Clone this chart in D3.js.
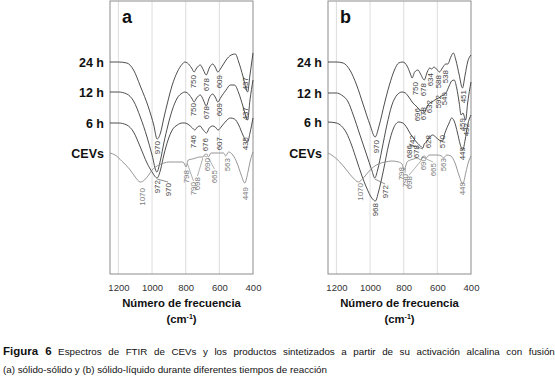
<!DOCTYPE html>
<html><head><meta charset="utf-8">
<script src="https://cdn.jsdelivr.net/npm/d3@7"></script>
<style>body{margin:0;background:#fff}svg{display:block}text{font-family:"Liberation Sans",Arial,sans-serif}</style>
</head><body><svg id="c" width="555" height="380"></svg>
<script>
// ---- data (wavenumber cm-1, transmittance in arbitrary offset units) ----
const seriesNames = ["24 h", "12 h", "6 h", "CEVs"];
const xTicks = [1200, 1000, 800, 600, 400];
const panelLetters = ["a", "b"];

const a24 = [[1250,212],[1200,212],[1150,211],[1110,204],[1070,188],[1020,166],[990,149],[970,135],[950,141],[930,156],[910,170],[880,189],[850,202],[820,210],[805,212],[790,211],[765,206],[750,202],[735,206],[713,209],[695,204],[678,199],[660,206],[640,210],[625,207],[609,202],[590,206],[560,214],[530,219],[505,220],[485,212],[460,198],[432,182],[418,199],[400,221]];
const a12 = [[1250,182],[1200,182],[1150,180],[1110,173],[1070,157],[1030,137],[1000,119],[972,102],[950,114],[930,131],[905,149],[880,164],[850,176],[820,181],[805,182],[790,181],[765,176],[750,172],[735,176],[713,179],[695,174],[678,168],[660,176],[640,180],[625,177],[609,172],[590,177],[560,184],[535,189],[510,189],[485,181],[460,168],[432,154],[418,174],[400,194]];
const a6 = [[1250,151],[1200,151],[1150,149],[1110,142],[1070,127],[1030,111],[1000,102],[970,96],[950,104],[930,119],[905,134],[880,144],[850,149],[820,151],[805,151],[780,149],[760,146],[746,144],[730,147],[715,148],[700,145],[676,141],[660,146],[640,148],[625,147],[607,144],[585,148],[560,153],[535,156],[510,155],[485,149],[460,139],[432,132],[418,141],[400,156]];
const aCEV = [[1250,121],[1220,119],[1180,113],[1130,104],[1100,97],[1070,92],[1045,94],[1020,99],[1000,104],[980,107],[960,109],[930,111],[900,112],[860,112],[820,112],[810,111],[798,107],[785,114],[760,115],[740,116],[720,117],[698,117],[690,119],[675,120],[665,117],[650,121],[600,121],[575,121],[563,118],[545,122],[520,119],[495,111],[470,99],[449,91],[430,102],[415,114],[400,122]];

const b24 = [[1250,212],[1200,212],[1160,211],[1120,204],[1080,189],[1040,169],[1000,149],[970,137],[945,149],[915,170],[885,189],[855,204],[830,211],[805,212],[780,208],[760,200],[750,196],[735,202],[715,204],[700,200],[678,194],[660,202],[645,206],[634,205],[620,207],[600,204],[588,202],[570,206],[550,210],[538,210],[520,217],[505,221],[490,214],[470,199],[451,186],[435,199],[420,212],[400,219]];
const b12 = [[1250,181],[1200,181],[1170,179],[1130,172],[1100,159],[1060,139],[1020,119],[990,104],[972,96],[955,104],[930,124],[900,149],[870,169],[840,179],[810,182],[790,181],[770,177],[745,171],[720,167],[696,163],[685,164],[678,161],[660,168],[645,171],[632,172],[615,174],[592,176],[575,178],[549,181],[530,188],[515,193],[500,194],[485,186],[470,171],[459,159],[448,161],[432,154],[420,171],[400,192]];
const b6 = [[1250,152],[1200,151],[1170,148],[1140,141],[1110,129],[1080,114],[1050,99],[1020,86],[990,76],[968,73],[950,82],[920,104],[890,129],[860,146],[830,152],[805,151],[780,146],[760,140],[742,136],[720,131],[700,128],[686,126],[678,130],[665,132],[650,136],[628,139],[610,137],[590,134],[570,133],[555,141],[530,151],[515,156],[500,153],[480,141],[465,130],[449,124],[435,134],[420,149],[400,159]];
const bCEV = [[1250,121],[1220,118],[1180,112],[1140,104],[1100,96],[1070,92],[1040,96],[1010,102],[980,107],[950,110],[910,112],[870,113],[830,112],[810,110],[798,104],[790,107],[780,112],[760,114],[740,115],[720,116],[698,114],[690,117],[675,118],[665,116],[650,119],[600,119],[575,118],[563,116],[545,119],[520,118],[495,111],[470,98],[449,90],[430,102],[415,112],[400,118]];

// peak labels: [series index, label, label x (cm-1), label top (units), leader?]
const peaksA = [
 [0,"970",970,133,0],[0,"750",756,199,0],[0,"678",679,196,0],[0,"609",602,199,0],[0,"437",447,197,0],
 [1,"972",967,94,0],[1,"750",756,171,0],[1,"678",679,168,0],[1,"609",602,171,0],[1,"437",445,167,0],
 [2,"970",905,91,1],[2,"746",756,139,0],[2,"676",685,136,0],[2,"607",602,137,0],[2,"435",445,137,0],
 [3,"1070",1060,86,0],[3,"798",800,104,0],[3,"790",754,92,1],[3,"698",730,97,1],[3,"690",673,116,1],[3,"665",629,104,1],[3,"563",554,116,0],[3,"449",449,87,0]
];
const peaksB = [
 [0,"970",965,134,0],[0,"750",733,192,0],[0,"678",685,191,0],[0,"634",644,201,0],[0,"588",596,199,0],[0,"538",554,204,0],[0,"451",447,184,0],
 [1,"972",911,89,1],[1,"696",721,166,0],[1,"678",685,167,0],[1,"632",650,174,0],[1,"592",596,179,0],[1,"549",560,182,0],[1,"459",453,156,0],[1,"432",429,151,0],
 [2,"968",971,71,0],[2,"742",751,139,0],[2,"686",769,129,1],[2,"678",727,129,0],[2,"628",655,139,0],[2,"570",572,139,0],[2,"449",453,127,0],
 [3,"1070",1060,91,0],[3,"798",816,107,0],[3,"790",792,100,1],[3,"698",768,98,1],[3,"690",685,117,1],[3,"665",626,111,1],[3,"563",567,116,0],[3,"449",453,92,0]
];

const panels = [
  {letter: panelLetters[0], series: [a24, a12, a6, aCEV], peaks: peaksA, x0: 110, x1: 253},
  {letter: panelLetters[1], series: [b24, b12, b6, bCEV], peaks: peaksB, x0: 328, x1: 471}
];

const svg = d3.select("#c");
const y = d3.scaleLinear().domain([0, 273]).range([274, 1]);
const lineColors = ["#3a3a3a", "#3a3a3a", "#3a3a3a", "#8a8a8a"];
const labelColors = ["#444", "#444", "#444", "#7a7a7a"];

panels.forEach(p => {
  const x = d3.scaleLinear().domain([1250, 400]).range([p.x0, p.x1]);
  const g = svg.append("g");
  g.selectAll("line.grid").data(xTicks.slice(0, -1)).join("line")
    .attr("x1", d => x(d)).attr("x2", d => x(d))
    .attr("y1", y(273)).attr("y2", y(0))
    .attr("stroke", "#d4d4d4").attr("stroke-width", 0.8);
  g.append("rect").attr("x", x(1250)).attr("y", y(273))
    .attr("width", x(400) - x(1250)).attr("height", y(0) - y(273))
    .attr("fill", "none").attr("stroke", "#8c8c8c").attr("stroke-width", 1);
  const ax = d3.axisBottom(x).tickValues(xTicks).tickFormat(d3.format("d")).tickSize(0).tickPadding(10);
  const axg = g.append("g").attr("transform", `translate(0,${y(0)})`).call(ax);
  axg.select(".domain").remove();
  axg.selectAll("text").attr("font-size", 9.5).attr("fill", "#333")
    .attr("font-family", "Liberation Sans, Arial, sans-serif");
  const cx = (x(1250) + x(400)) / 2;
  g.append("text").attr("x", cx).attr("y", 307).attr("text-anchor", "middle")
    .attr("font-size", 11.3).attr("font-weight", "bold").attr("fill", "#111")
    .text("Número de frecuencia");
  const t2 = g.append("text").attr("x", cx).attr("y", 323).attr("text-anchor", "middle")
    .attr("font-size", 11.3).attr("font-weight", "bold").attr("fill", "#111");
  t2.append("tspan").text("(cm");
  t2.append("tspan").attr("font-size", 7).attr("dy", -4).text("-1");
  t2.append("tspan").attr("dy", 4).text(")");
  g.append("text").attr("x", x(1250) + 12).attr("y", 23)
    .attr("font-size", 18).attr("font-weight", "bold").attr("fill", "#111").text(p.letter);
  const line = d3.line().x(d => x(d[0])).y(d => y(d[1])).curve(d3.curveMonotoneX);
  p.series.forEach((s, i) => {
    g.append("path").attr("d", line(s)).attr("fill", "none")
      .attr("stroke", lineColors[i]).attr("stroke-width", 0.9);
    g.append("text").attr("x", x(1250) - 6).attr("y", y(s[0][1]) + 4.5)
      .attr("text-anchor", "end").attr("font-size", 12.5).attr("font-weight", "bold")
      .attr("fill", "#111").text(seriesNames[i]);
  });
  p.peaks.forEach(([si, txt, lx, top, leader]) => {
    const s = p.series[si];
    const px = x(lx), py = y(top);
    if (leader) {
      const w = +txt;
      const interp = d3.scaleLinear().domain(s.map(d => d[0])).range(s.map(d => d[1]));
      g.append("line").attr("x1", x(w)).attr("y1", y(interp(w)) + 1)
        .attr("x2", px).attr("y2", py - 1)
        .attr("stroke", labelColors[si]).attr("stroke-width", 0.6);
    }
    g.append("text").attr("transform", `translate(${px},${py}) rotate(-90)`)
      .attr("text-anchor", "end").attr("dy", "0.35em")
      .attr("font-size", 8).attr("fill", labelColors[si]).text(txt);
  });
});

// caption (first line justified to the full width)
const cap1 = svg.append("text").attr("x", 3).attr("y", 355).attr("fill", "#111");
cap1.append("tspan").attr("font-weight", "bold").attr("font-size", 11.5).text("Figura 6");
const rest = " Espectros de FTIR de CEVs y los productos sintetizados a partir de su activación alcalina con fusión";
cap1.append("tspan").attr("font-size", 9.8).text(rest);
const natural = cap1.node().getComputedTextLength();
const spaces = rest.split(" ").length - 1 + 0;
cap1.attr("word-spacing", Math.max(0, (551 - 3 - natural) / spaces));
svg.append("text").attr("x", 3).attr("y", 373).attr("fill", "#111").attr("font-size", 9.8)
  .text("(a) sólido-sólido y (b) sólido-líquido durante diferentes tiempos de reacción");
</script></body></html>
